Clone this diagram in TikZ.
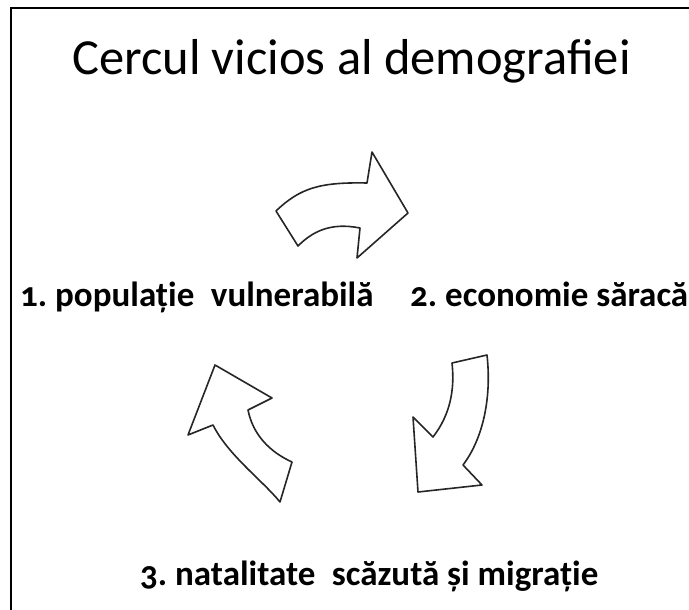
\documentclass[tikz,border=0pt]{standalone}
\usepackage{fontspec}
\setmainfont{Carlito}[Numbers=OldStyle]
\usepackage{tikz}
\usetikzlibrary{positioning}
\frenchspacing

\begin{document}
\begin{tikzpicture}[x=1pt,y=-1pt,arrowshape/.style={draw=black!85,line width=1.6pt,line join=round,fill=white},
	lbl/.style={font=\fontsize{35}{40}\selectfont\bfseries,inner sep=0pt,anchor=base west}]
	\useasboundingbox (0,0) rectangle (689,610);
	\draw[line width=2.5pt] (11,610) -- (11,8) -- (689,8);
	\node[anchor=base west,inner sep=0pt,font=\fontsize{50.5}{55}\selectfont] (title) at (72,75) {Cercul vicios al demografiei};
	\node[lbl] (pop) at (20,306) {1. populație\hspace{0.25em} vulnerabilă};
	\node[lbl] (eco) at (410,306) {2. economie săracă};
	\node[lbl] (nat) at (140,585) {3. natalitate\hspace{0.25em} scăzută și migrație};
	% arrows of the circle
	\draw[arrowshape] (276,211) .. controls (300,188) and (320,182) .. (367,183) -- (372,152) -- (408,213) -- (357,258) -- (360,228)
		.. controls (330,222) and (312,232) .. (298,246) -- cycle;
	\draw[arrowshape] (452,363) -- (487,355) .. controls (492,400) and (482,440) .. (463,465) -- (482,485) -- (418,492) -- (413,417) -- (433,437)
		.. controls (450,415) and (455,390) .. (452,363) -- cycle;
	\draw[arrowshape] (215,365) -- (272,398) -- (248,410) .. controls (253,435) and (270,452) .. (292,462) -- (280,502)
		.. controls (262,480) and (228,455) .. (213,425) -- (188,435) -- cycle;
\end{tikzpicture}
\end{document}
